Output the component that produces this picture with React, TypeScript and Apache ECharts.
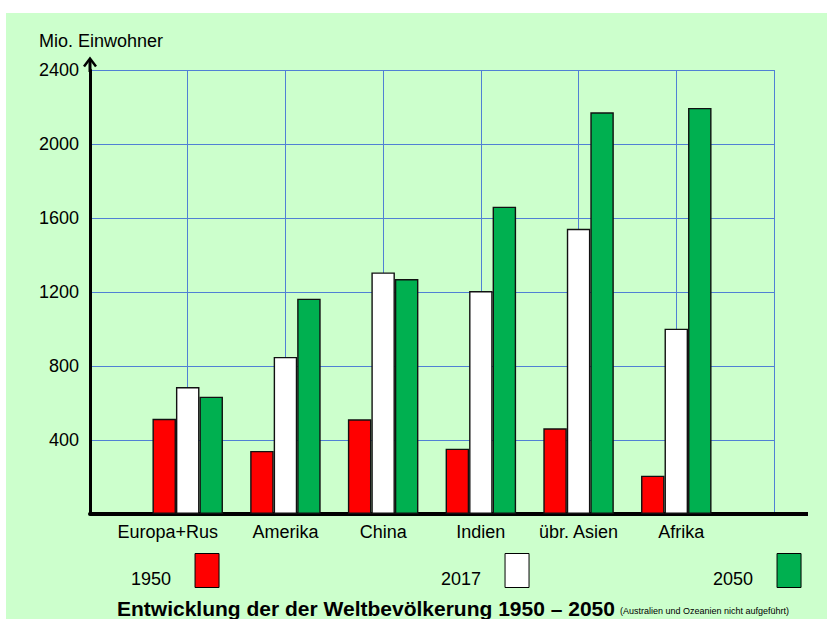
import React, { useEffect, useRef } from "react";
import * as echarts from "echarts";

const categories = ["", "Europa+Rus", "Amerika", "China", "Indien", "übr. Asien", "Afrika", ""];
const years = ["1950", "2017", "2050"];
const values1950 = [null, 515, 341, 512, 353, 463, 207, null];
const values2017 = [null, 686, 849, 1306, 1205, 1542, 1002, null];
const values2050 = [null, 634, 1164, 1270, 1661, 2171, 2195, null];
const yTicks = { min: 0, max: 2400, interval: 400 };
const titleMain = "Entwicklung der der Weltbevölkerung 1950 – 2050";
const titleNote = "(Australien und Ozeanien nicht aufgeführt)";
const yName = "Mio. Einwohner";

const colors = ["#ff0000", "#ffffff", "#00b050"];
const FONT = "Liberation Sans, Arial, sans-serif";

export default function App() {
  const ref = useRef<HTMLDivElement>(null);
  useEffect(() => {
    if (!ref.current) return;
    const chart = echarts.init(ref.current, undefined, { renderer: "svg" });
    const seriesData = [values1950, values2017, values2050];
    const legendLefts = [131, 441, 713];
    chart.setOption({
      animation: false,
      backgroundColor: "transparent",
      textStyle: { fontFamily: FONT },
      graphic: [
        { type: "rect", z: -10, shape: { x: 6, y: 13, width: 821, height: 606 }, style: { fill: "#ccffcc" }, silent: true },
        { type: "line", z: 100, shape: { x1: 90, y1: 72, x2: 90, y2: 59 }, style: { stroke: "#000", lineWidth: 3 } },
        { type: "polyline", z: 100, shape: { points: [[84, 66.5], [90, 58.5], [96, 66.5]] }, style: { stroke: "#000", lineWidth: 2.5, fill: null } },
        { type: "line", z: 100, shape: { x1: 772, y1: 514, x2: 808, y2: 514 }, style: { stroke: "#000", lineWidth: 4 } },
      ],
      title: [
        {
          text: yName,
          left: 34,
          top: 27,
          textStyle: { fontSize: 18, fontWeight: "normal", color: "#000", fontFamily: FONT },
        },
        {
          text: `{b|${titleMain}} {s|${titleNote}}`,
          left: 117,
          top: 598,
          padding: 0,
          textStyle: {
            fontWeight: "normal",
            rich: {
              b: { fontSize: 21, fontWeight: "bold", color: "#000", fontFamily: FONT },
              s: { fontSize: 9, fontWeight: "normal", color: "#000", fontFamily: FONT, padding: [4, 0, 0, 0] },
            },
          },
        },
      ],
      legend: years.map((y, i) => ({
        data: [y],
        left: legendLefts[i],
        top: 553,
        padding: 0,
        align: "right",
        icon: "rect",
        itemWidth: 24,
        itemHeight: 34,
        itemStyle: { borderColor: "#000", borderWidth: 1 },
        formatter: (n: string) => `{a|${n}}`,
        textStyle: {
          fontSize: 18,
          color: "#000",
          fontFamily: FONT,
          rich: { a: { fontSize: 18, color: "#000", fontFamily: FONT, padding: [16, 19, 0, 0] } },
        },
        selectedMode: false,
      })),
      grid: { left: 90, right: 53, top: 70, bottom: 105, containLabel: false },
      xAxis: {
        type: "category",
        data: categories,
        boundaryGap: false,
        axisLine: { show: true, lineStyle: { color: "#000", width: 4 } },
        axisTick: { show: false },
        splitLine: { show: true, interval: 0, lineStyle: { color: "#5080d4", width: 1 } },
        axisLabel: {
          interval: 0,
          margin: 9,
          fontSize: 18,
          color: "#000",
          fontFamily: FONT,
          formatter: (v: string, i: number) => (i === 1 ? `{l|${v}}` : i === 6 ? `{r|${v}}` : v),
          rich: {
            l: { fontSize: 18, color: "#000", fontFamily: FONT, padding: [0, 40, 0, 0] },
            r: { fontSize: 18, color: "#000", fontFamily: FONT, padding: [0, 0, 0, 10] },
          },
        },
      },
      yAxis: {
        type: "value",
        min: yTicks.min,
        max: yTicks.max,
        interval: yTicks.interval,
        axisLine: { show: true, lineStyle: { color: "#000", width: 3 } },
        axisTick: { show: false },
        splitLine: { show: true, lineStyle: { color: "#5080d4", width: 1 } },
        axisLabel: {
          margin: 11,
          fontSize: 18,
          color: "#000",
          fontFamily: FONT,
          formatter: (v: number) => (v === 0 ? "" : String(v)),
        },
      },
      series: years.map((y, i) => ({
        name: y,
        type: "bar",
        data: seriesData[i],
        barWidth: 23.5,
        barGap: "0%",
        itemStyle: { color: colors[i], borderColor: "#111", borderWidth: 1.4 },
      })),
    });
    return () => chart.dispose();
  }, []);
  return (
    <div
      ref={ref}
      style={{ position: "fixed", left: 0, top: 0, width: 827, height: 619, background: "#ffffff" }}
    />
  );
}
